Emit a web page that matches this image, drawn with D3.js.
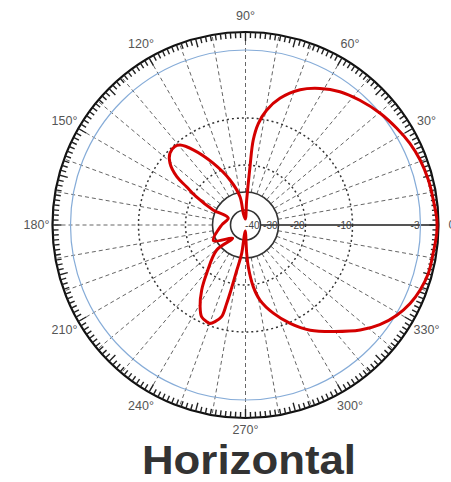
<!DOCTYPE html>
<html>
<head>
<meta charset="utf-8">
<script src="https://cdn.jsdelivr.net/npm/d3@7"></script>
<style>
  body { margin: 0; background: #fff; }
  svg { display: block; }
</style>
</head>
<body>
<svg id="chart" width="451" height="482"></svg>
<script>
// pattern: angle in degrees (ccw from 0), gain in dB
const patternAngles = [
  1.5, 7.6, 13.8, 20.4, 26.4, 32.6, 39.7, 47.5, 54.7, 61.4, 68.0, 74.8, 79.6, 82.8, 84.8, 85.6, 87.3,
  92,
  100.6, 101, 109, 117.5, 124.8, 129.3, 132, 136.5, 140.7, 144.9, 147, 150, 155, 158,
  180, 206, 226,
  221, 231.2, 236, 240.9, 244.5, 248.1, 250.1, 252.5, 255.4, 256.5, 257.4, 258.9, 262.4, 263,
  267,
  272.4, 273.8, 277.2, 280.9, 287.5, 294.4, 301.6, 309.5, 317.5, 323.4, 329.2, 334.5, 339.6, 345.2, 351.4, 357.5
];
const patternGains = [
  -0.1, -0.45, -0.65, -1.0, -1.5, -2.2, -3.0, -3.6, -4.2, -5.0, -6.0, -7.5, -9.0, -11.0, -14.6, -20.6, -34.4,
  -45,
  -41.7, -32.3, -24.6, -18.0, -13.3, -10.8, -10.3, -10.6, -12.0, -14.9, -17.8, -21, -29, -38,
  -35.1, -29.0, -38.1,
  -28.1, -19.6, -16.1, -12.9, -11.1, -10.6, -10.5, -11.2, -12.6, -15.6, -18.5, -24.5, -32.4, -40,
  -45,
  -32.6, -26.7, -19.5, -16.5, -13.1, -9.9, -8.3, -6.8, -5.0, -3.8, -2.8, -1.7, -1.0, -0.5, -0.4, -0.1
];

// grid
const gainRings = [-40, -30, -20, -10, -3];
const gainLabels = ["-40", "-30", "-20", "-10", "-3"];
const angleTicks = [0, 30, 60, 90, 120, 150, 180, 210, 240, 270, 300, 330];
const angleLabels = ["0°", "30°", "60°", "90°", "120°", "150°", "180°", "210°", "240°", "270°", "300°", "330°"];
const spokes = d3.range(0, 360, 10);
const title = "Horizontal";

const svg = d3.select("#chart");
const cx = 245.5, cy = 225;
const ringR = 193;

// gain -> radius (log-like paper scale)
const rScale = d3.scaleLinear()
  .domain([-40, -30, -20, -10, -3, 0])
  .range([15, 33, 60, 107, 175, 192]);

const g = svg.append("g").attr("transform", `translate(${cx},${cy})`);

const toXY = (deg, r) => {
  const a = deg * Math.PI / 180;
  return [r * Math.cos(a), -r * Math.sin(a)];
};

// spokes
spokes.forEach(d => {
  if (d === 0) return;
  const [x1, y1] = toXY(d, rScale(-30));
  const [x2, y2] = toXY(d, ringR);
  g.append("line")
    .attr("x1", x1).attr("y1", y1).attr("x2", x2).attr("y2", y2)
    .attr("stroke", "#666").attr("stroke-width", 1)
    .attr("stroke-dasharray", "4,3");
});

// 0 deg axis, solid
g.append("line")
  .attr("x1", rScale(-40)).attr("y1", 0).attr("x2", ringR).attr("y2", 0)
  .attr("stroke", "#555").attr("stroke-width", 2);

// gain circles
gainRings.forEach(d => {
  const c = g.append("circle").attr("r", rScale(d)).attr("fill", "none");
  if (d === -3) {
    c.attr("stroke", "#86acd8").attr("stroke-width", 1.2);
  } else if (d <= -30) {
    c.attr("stroke", "#333").attr("stroke-width", 1.6);
  } else {
    c.attr("stroke", "#333").attr("stroke-width", 1.5).attr("stroke-dasharray", "2,3");
  }
});

// outer ring + ticks
g.append("circle").attr("r", ringR).attr("fill", "none")
  .attr("stroke", "#111").attr("stroke-width", 2.2);
d3.range(0, 360, 1.5).forEach(d => {
  const len = (d % 15 === 0) ? 9 : 6;
  const [x1, y1] = toXY(d, ringR);
  const [x2, y2] = toXY(d, ringR - len);
  g.append("line")
    .attr("x1", x1).attr("y1", y1).attr("x2", x2).attr("y2", y2)
    .attr("stroke", "#222").attr("stroke-width", 1.4);
});

// gain labels on the 0 axis
gainRings.forEach((d, i) => {
  g.append("text")
    .attr("x", rScale(d) - 1).attr("y", 4)
    .attr("text-anchor", "end")
    .style("font-family", "Liberation Sans, Arial, sans-serif")
    .style("font-size", "10px")
    .attr("fill", "#444")
    .text(gainLabels[i]);
});

// angle labels (bottom one pulled in a little to clear the title)
angleTicks.forEach((d, i) => {
  const [x, y] = toXY(d, d === 270 ? 205 : 209);
  g.append("text")
    .attr("x", x).attr("y", y)
    .attr("text-anchor", "middle")
    .attr("dominant-baseline", "central")
    .style("font-family", "Liberation Sans, Arial, sans-serif")
    .style("font-size", "12.5px")
    .attr("fill", "#555")
    .text(angleLabels[i]);
});

// pattern
const patternData = patternAngles.map((a, i) => ({ angle: a, gain: patternGains[i] }));
const radial = d3.lineRadial()
  .angle(d => (90 - d.angle) * Math.PI / 180)
  .radius(d => Math.max(0, rScale(d.gain)))
  .curve(d3.curveCatmullRomClosed.alpha(0.5));
g.append("path")
  .datum(patternData)
  .attr("d", radial)
  .attr("fill", "none")
  .attr("stroke", "#d40000")
  .attr("stroke-width", 3)
  .attr("stroke-linejoin", "round");

// title
svg.append("text")
  .attr("x", 249).attr("y", 473.5)
  .attr("text-anchor", "middle")
  .attr("textLength", 214)
  .attr("lengthAdjust", "spacingAndGlyphs")
  .style("font-family", "Liberation Sans, Arial, sans-serif")
  .style("font-weight", "bold")
  .style("font-size", "40px")
  .attr("fill", "#333")
  .text(title);
</script>
</body>
</html>
